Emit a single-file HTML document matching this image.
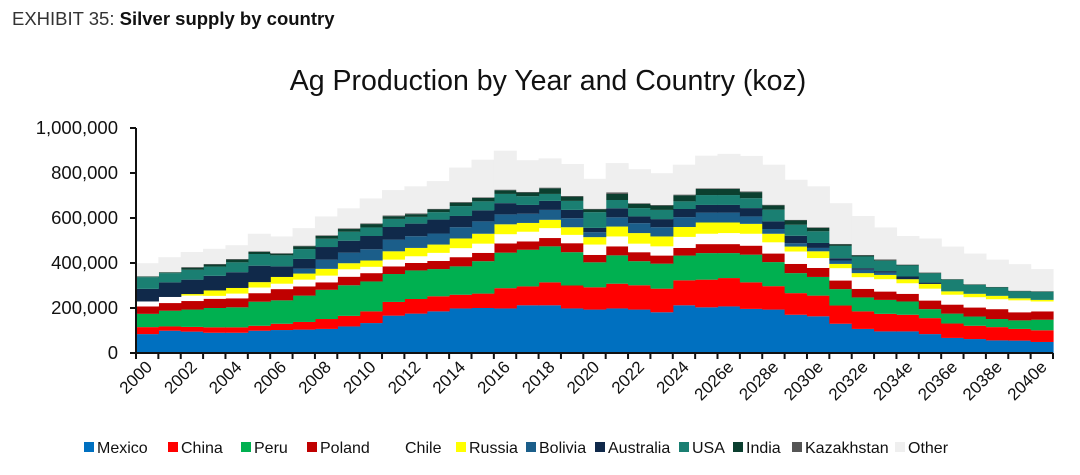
<!DOCTYPE html>
<html><head><meta charset="utf-8">
<style>
body{margin:0;background:#fff;width:1080px;height:470px;overflow:hidden;font-family:"Liberation Sans",sans-serif;}
</style></head>
<body>
<svg width="1080" height="470" xmlns="http://www.w3.org/2000/svg">
<text x="12" y="25" font-size="18.5" fill="#333">EXHIBIT 35: <tspan font-weight="bold" fill="#111">Silver supply by country</tspan></text>
<text x="548" y="90" font-size="28.5" text-anchor="middle" fill="#111">Ag Production by Year and Country (koz)</text>
<g id="plot"></g>
<g id="axes"></g>
<g id="legend"></g>
</svg>
<script>
const years = [];
for (let y = 2000; y <= 2040; y++) years.push(y);
const tickLabels = ["2000","2002","2004","2006","2008","2010","2012","2014","2016","2018","2020","2022","2024","2026e","2028e","2030e","2032e","2034e","2036e","2038e","2040e"];
const yTicks = [0,200000,400000,600000,800000,1000000];
const seriesNames = ["Mexico","China","Peru","Poland","Chile","Russia","Bolivia","Australia","USA","India","Kazakhstan","Other"];
const seriesColors = ["#0070c0","#ff0000","#00b050","#c00000","#ffffff","#ffff00","#1b5e8a","#10294a","#1a7f72","#0b3f2f","#555555","#efefef"];
const mexico = [84,99,95,90,90,99,102,104,107,118,133,166,175,185,198,200,198,212,212,198,193,198,193,181,212,203,207,196,193,170,163,130,107,96,96,84,67,62,56,55,49];
const china = [31,19,21,24,24,22,28,34,44,47,52,61,65,67,61,64,90,84,102,102,99,110,108,105,111,123,126,118,104,96,92,81,78,78,74,71,64,59,59,52,52];
const peru = [59,70,77,86,89,107,104,117,130,136,133,124,127,121,126,144,158,163,160,148,111,126,107,111,110,118,111,123,107,89,83,73,62,62,59,40,44,41,36,38,47];
const poland = [33,34,38,41,40,38,50,41,33,38,37,34,33,36,41,37,41,37,37,40,33,40,40,36,34,40,40,40,38,41,40,38,38,37,34,38,40,40,44,36,37];
const chile = [22,27,24,13,21,25,24,30,30,33,28,30,30,36,40,41,41,43,44,37,46,44,38,41,49,46,49,53,50,55,44,55,52,55,47,53,44,46,44,53,44];
const russia = [0,0,7,24,25,24,30,27,30,27,28,37,37,37,43,44,44,39,37,34,33,44,47,44,44,50,47,44,38,22,30,19,18,19,18,21,15,15,15,9,7];
const bolivia = [0,0,0,0,0,0,0,22,41,47,50,52,52,49,50,55,44,41,44,40,22,41,44,41,44,44,44,33,21,15,15,15,15,10,0,0,0,0,0,0,0];
const australia = [56,65,64,65,70,73,47,43,56,53,59,56,56,62,50,49,50,39,40,37,19,40,30,36,36,34,34,37,34,33,22,10,7,7,12,6,0,0,0,0,0];
const usa = [52,41,44,41,44,52,49,44,37,40,38,36,30,33,44,40,41,39,31,40,70,37,37,41,34,44,44,44,52,49,52,55,52,46,49,41,52,40,37,31,36];
const india = [3,4,9,9,12,9,7,12,12,12,15,12,12,12,15,15,16,16,25,19,12,27,19,19,27,27,27,27,19,19,15,6,4,3,2,2,2,2,2,2,2];
const kazakhstan = [0,0,3,3,3,3,3,3,3,3,3,3,3,3,3,3,3,3,3,3,3,7,3,3,3,3,3,3,3,3,3,3,3,3,2,2,1,1,1,1,1];
const other = [59,67,67,67,61,78,74,78,84,89,111,113,121,123,153,167,173,141,130,142,133,130,151,141,133,145,153,158,178,178,182,181,173,142,127,151,144,136,121,118,98];
const seriesData = [mexico,china,peru,poland,chile,russia,bolivia,australia,usa,india,kazakhstan,other];

const NS = "http://www.w3.org/2000/svg";
const X0 = 136, X1 = 1053, Y0 = 353, Y1 = 128, YMAX = 1000000;
const bw = (X1 - X0) / years.length;
function xScale(i){ return X0 + i * bw; }
function yScale(v){ return Y0 - (v / YMAX) * (Y0 - Y1); }
function mk(tag, attrs, parent){
  const e = document.createElementNS(NS, tag);
  for (const k in attrs) e.setAttribute(k, attrs[k]);
  parent.appendChild(e); return e;
}
const plot = document.getElementById("plot");
const cum = years.map(() => 0);
seriesData.forEach((arr, s) => {
  const g = mk("g", {}, plot);
  
  
  arr.forEach((v, i) => {
    if (v <= 0) return;
    const lo = cum[i] * 1000, hi = (cum[i] + v) * 1000;
    const r = mk("rect", {x: xScale(i), y: yScale(hi), width: bw + 0.6, height: yScale(lo) - yScale(hi), fill: seriesColors[s]}, g);
    
    
    cum[i] += v;
  });
});
const axes = document.getElementById("axes");
const ya = mk("line", {x1: X0, y1: Y1, x2: X0, y2: Y0, stroke: "#111", "stroke-width": 2}, axes);


const xa = mk("line", {x1: X0, y1: Y0, x2: X1, y2: Y0, stroke: "#111", "stroke-width": 2}, axes);


yTicks.forEach(v => {
  const y = yScale(v);
  const t = mk("line", {x1: X0 - 6, y1: y, x2: X0, y2: y, stroke: "#111", "stroke-width": 2}, axes);
  
  
  const l = mk("text", {x: X0 - 18, y: y + 6, "font-size": 18.5, "text-anchor": "end", fill: "#111"}, axes);
  l.textContent = v.toLocaleString("en-US");
  
  
});
for (let i = 0; i <= years.length; i++) {
  const t = mk("line", {x1: xScale(i), y1: Y0, x2: xScale(i), y2: Y0 + 6, stroke: "#111", "stroke-width": 2}, axes);
  
  
}
tickLabels.forEach((lab, k) => {
  const i = k * 2;
  const cx = xScale(i) + bw / 2 + 6, cy = Y0 + 15;
  const l = mk("text", {x: cx, y: cy, "font-size": 17, "text-anchor": "end", fill: "#111", transform: "rotate(-45 " + cx + " " + cy + ")"}, axes);
  l.textContent = lab;
  
  
});
const legend = document.getElementById("legend");
const legX = [84,168,241,307,392,456,526,595,679,733,792,895];
seriesNames.forEach((n, s) => {
  const g = mk("g", {}, legend);
  
  
  mk("rect", {x: legX[s], y: 442, width: 10, height: 10, fill: seriesColors[s]}, g);
  const t = mk("text", {x: legX[s] + 13, y: 453, "font-size": 16, fill: "#111"}, g);
  t.textContent = n;
});
</script>
</body></html>
